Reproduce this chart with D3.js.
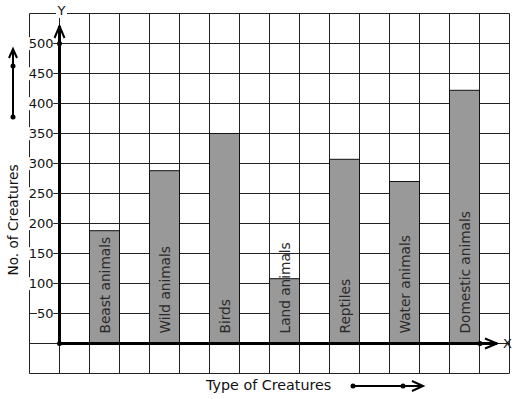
<!DOCTYPE html>
<html>
<head>
<meta charset="utf-8">
<script src="https://cdn.jsdelivr.net/npm/d3@7"></script>
<style>
  body { margin: 0; background: #fff; }
  text { font-family: "DejaVu Sans", sans-serif; fill: #111; }
</style>
</head>
<body>
<svg id="chart"></svg>
<script>
const categories = ['Beast animals', 'Wild animals', 'Birds', 'Land animals', 'Reptiles', 'Water animals', 'Domestic animals'];
const counts = [188, 288, 350, 108, 307, 270, 422];
const yTicks = [50, 100, 150, 200, 250, 300, 350, 400, 450, 500];

const width = 517, height = 399;
const svg = d3.select('#chart').attr('width', width).attr('height', height);

// grid columns: -1 .. 15 (origin at column 0), rows: value -50 .. 550
const x = d3.scaleLinear().domain([-1, 15]).range([29.5, 509.5]);
const y = d3.scaleLinear().domain([-50, 550]).range([373.5, 13.5]);

const grid = svg.append('g').attr('stroke', '#222').attr('stroke-width', 1);
grid.selectAll('.vl').data(d3.range(-1, 16)).join('line')
  .attr('x1', d => x(d)).attr('x2', d => x(d))
  .attr('y1', y(550)).attr('y2', y(-50));
grid.selectAll('.hl').data(d3.range(-50, 551, 50)).join('line')
  .attr('y1', d => y(d)).attr('y2', d => y(d))
  .attr('x1', x(-1)).attr('x2', x(15));

// bars at columns 1,3,5...
const bars = svg.append('g');
bars.selectAll('rect').data(counts).join('rect')
  .attr('x', (d, i) => x(1 + i * 2))
  .attr('width', x(2) - x(1))
  .attr('y', d => y(d))
  .attr('height', d => y(0) - y(d))
  .attr('fill', '#999')
  .attr('stroke', '#111')
  .attr('stroke-width', 1);

bars.selectAll('text').data(categories).join('text')
  .attr('transform', (d, i) => `translate(${x(1.5 + i * 2) + 5},${y(0) - 10}) rotate(-90)`)
  .attr('font-size', 13.7)
  .style('fill', '#2a2a2a')
  .text(d => d);

// axes
const axes = svg.append('g');
axes.append('line').attr('x1', x(0)).attr('x2', x(0)).attr('y1', y(0)).attr('y2', 26)
  .attr('stroke', '#000').attr('stroke-width', 3);
axes.append('path').attr('d', `M${x(0) - 5},38 L${x(0)},26 L${x(0) + 5},38`)
  .attr('fill', 'none').attr('stroke', '#000').attr('stroke-width', 2);
axes.append('line').attr('x1', x(0)).attr('x2', 497).attr('y1', y(0)).attr('y2', y(0))
  .attr('stroke', '#000').attr('stroke-width', 3);
axes.append('path').attr('d', `M485,${y(0) - 5} L497,${y(0)} L485,${y(0) + 5}`)
  .attr('fill', 'none').attr('stroke', '#000').attr('stroke-width', 2);
axes.selectAll('circle').data([[x(0), y(0)], [x(0), y(500)], [480, y(0)]]).join('circle')
  .attr('cx', d => d[0]).attr('cy', d => d[1]).attr('r', 2.5).attr('fill', '#000');

// y tick labels with white background
const ticks = svg.append('g');
yTicks.forEach(v => {
  const label = ticks.append('text')
    .attr('x', x(0) - 6).attr('y', y(v)).attr('dy', '0.36em')
    .attr('text-anchor', 'end').attr('font-size', 13).text(v);
  const bb = label.node().getBBox();
  ticks.insert('rect', 'text').attr('x', bb.x).attr('y', bb.y + 1)
    .attr('width', bb.width).attr('height', bb.height - 2).attr('fill', '#fff');
  ticks.append('line').attr('x1', x(0) - 6).attr('x2', x(0)).attr('y1', y(v)).attr('y2', y(v))
    .attr('stroke', '#222');
});

// axis letters
svg.append('rect').attr('x', 56).attr('y', 4).attr('width', 11).attr('height', 14).attr('fill', '#fff');
svg.append('text').attr('x', 61.5).attr('y', 15).attr('text-anchor', 'middle').attr('font-size', 13).text('Y');
svg.append('text').attr('x', 503).attr('y', y(0)).attr('dy', '0.36em').attr('font-size', 13).text('X');

// axis titles
svg.append('text').attr('transform', 'translate(18,220) rotate(-90)')
  .attr('text-anchor', 'middle').attr('font-size', 13.7).text('No. of Creatures');
svg.append('text').attr('x', 206).attr('y', 390).attr('font-size', 14.3).text('Type of Creatures');

// decorative arrows
const deco = svg.append('g').attr('stroke', '#000').attr('stroke-width', 2).attr('fill', 'none');
deco.append('line').attr('x1', 13).attr('x2', 13).attr('y1', 117).attr('y2', 49);
deco.append('path').attr('d', 'M9,58 L13,49 L17,58');
deco.append('line').attr('x1', 353).attr('x2', 423).attr('y1', 386).attr('y2', 386);
deco.append('path').attr('d', 'M412,381 L423,386 L412,391');
svg.selectAll('.dot').data([[13, 117], [13, 66], [353, 386], [403, 386]]).join('circle')
  .attr('cx', d => d[0]).attr('cy', d => d[1]).attr('r', 2.5).attr('fill', '#000');
</script>
</body>
</html>
